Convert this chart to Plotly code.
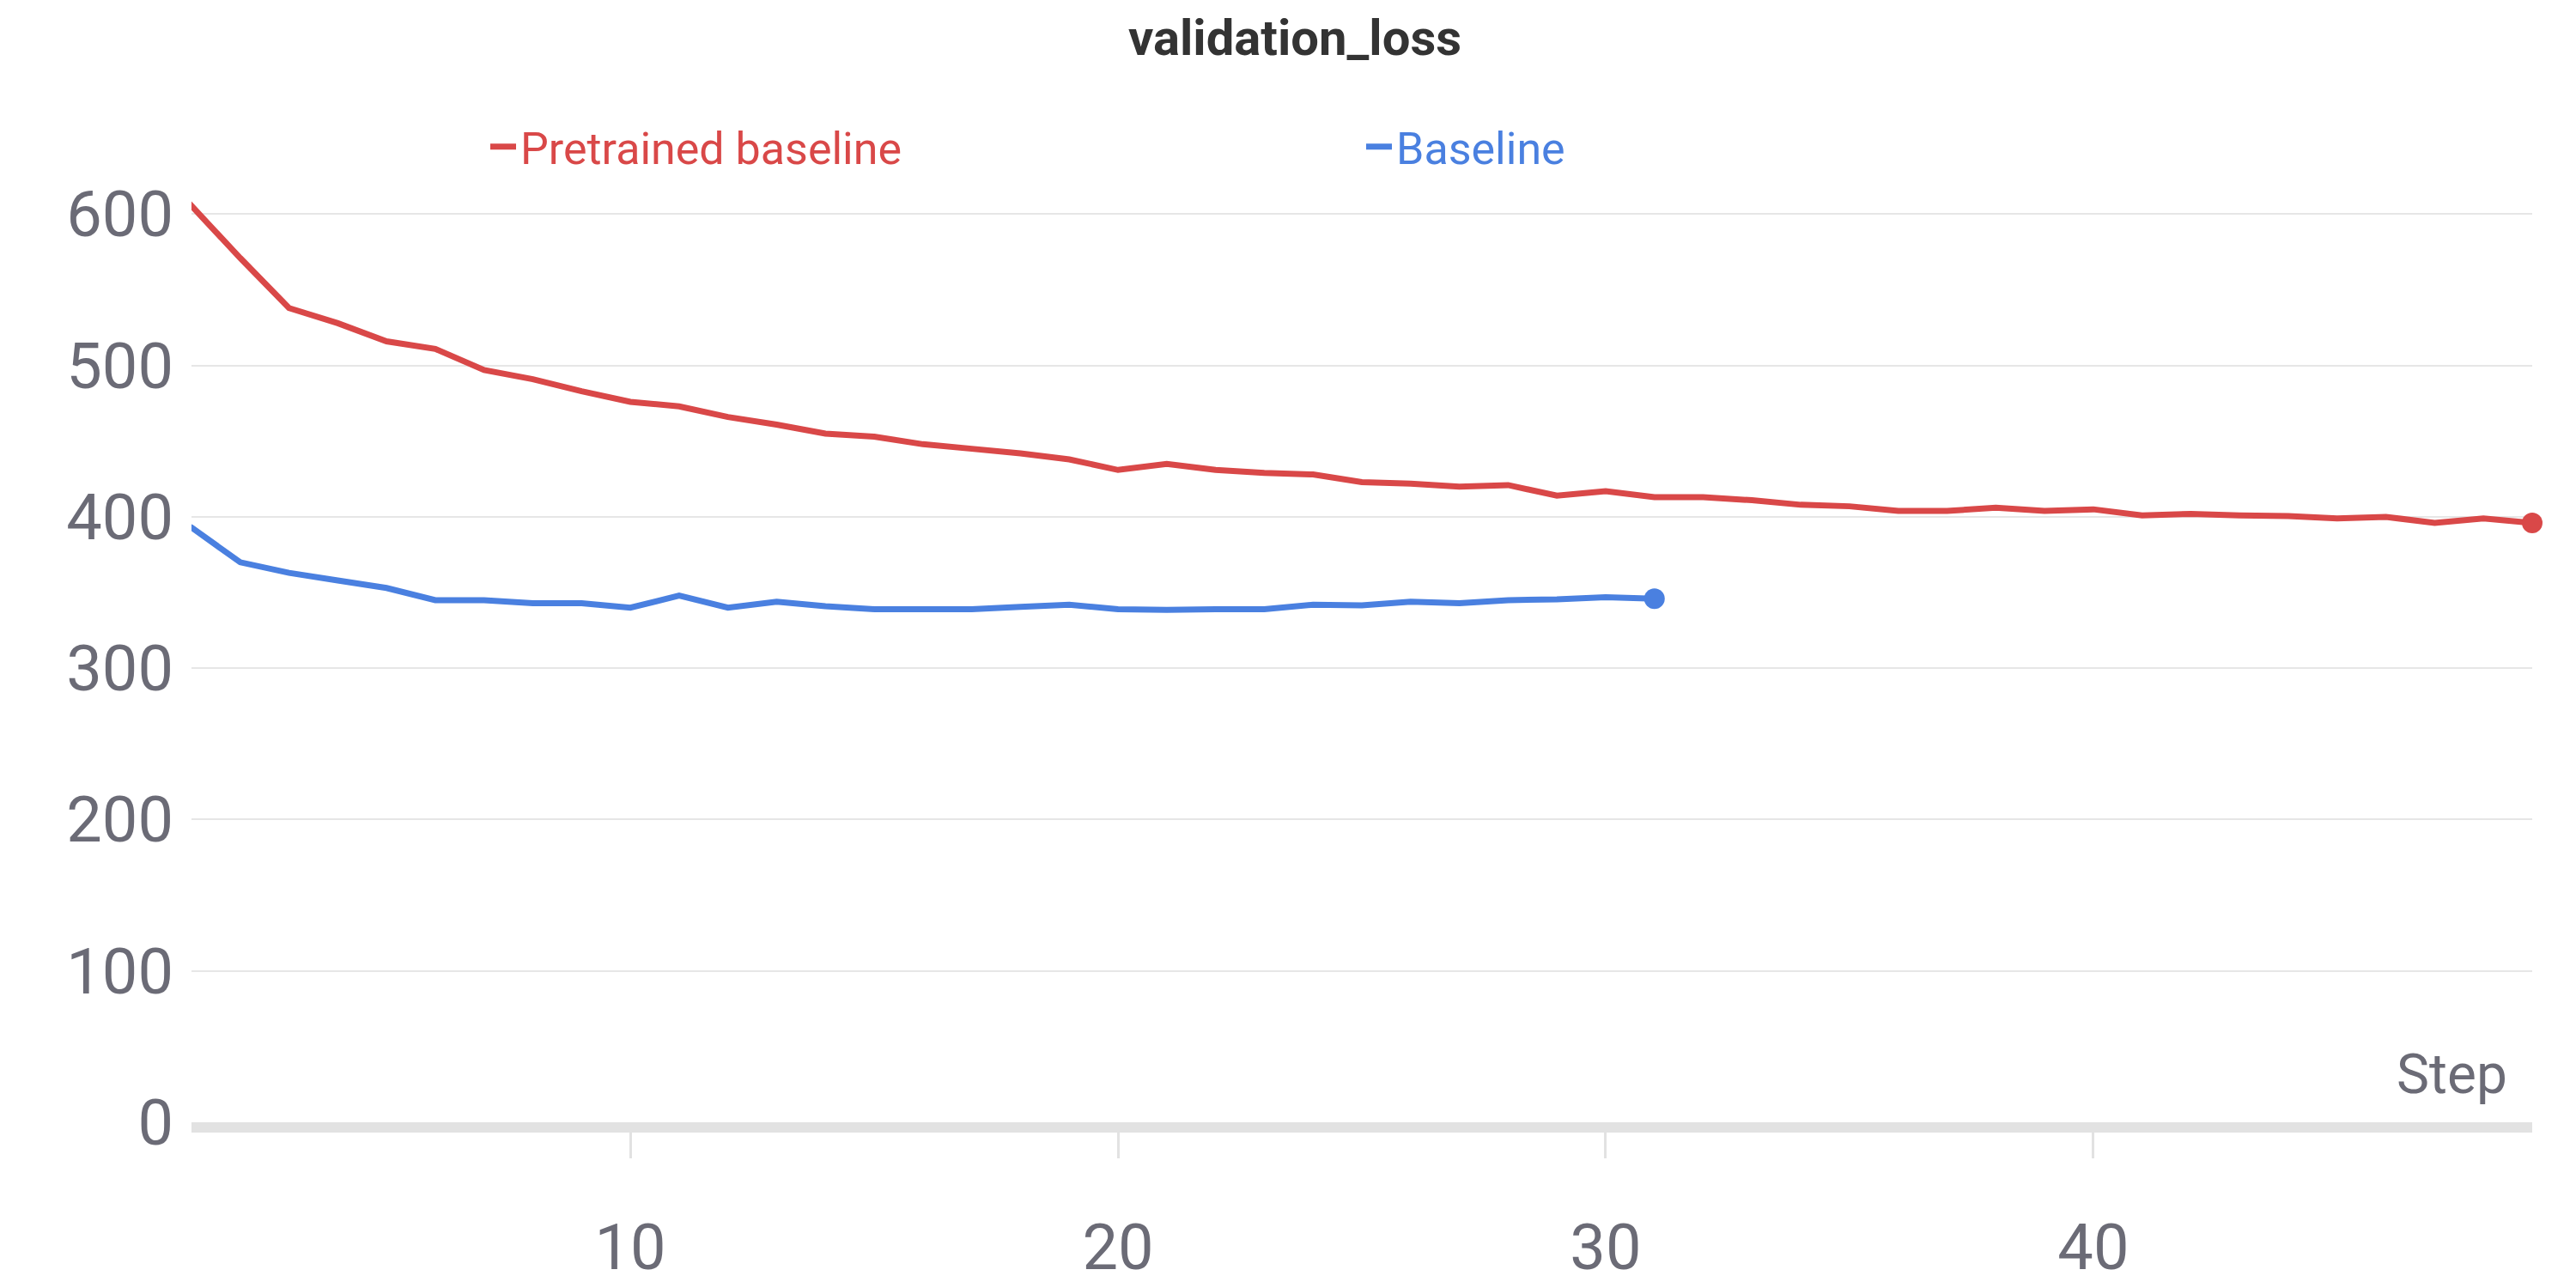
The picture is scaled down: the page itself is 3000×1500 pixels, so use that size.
import plotly.graph_objects as go

steps_red = list(range(0, 50))
pretrained = [640, 605, 571, 538, 528, 516, 511, 497, 491, 483, 476, 473, 466, 461, 455, 453,
              448, 445, 442, 438, 431, 435, 431, 429, 428, 423, 422, 420, 421, 414, 417,
              413, 413, 411, 408, 407, 404, 404, 406, 404, 405, 401, 402, 401, 400.5, 399,
              400, 396, 399, 396]
steps_blue = list(range(0, 32))
baseline = [407, 393, 370, 363, 358, 353, 345, 345, 343, 343, 340, 348, 340, 344, 341, 339,
            339, 339, 340.5, 342, 339, 338.5, 339, 339, 342, 341.5, 344, 343, 345, 345.5,
            347, 346]

RED = "#d94848"
BLUE = "#4a80e0"
GRAY = "#6b6b76"

fig = go.Figure()
fig.add_trace(go.Scatter(x=steps_red, y=pretrained, mode="lines",
                         name=f"<span style='color:{RED}'>Pretrained baseline</span>",
                         line=dict(color=RED, width=7)))
fig.add_trace(go.Scatter(x=steps_blue, y=baseline, mode="lines",
                         name=f"<span style='color:{BLUE}'>Baseline</span>",
                         line=dict(color=BLUE, width=7)))
# end-point markers
fig.add_trace(go.Scatter(x=[steps_red[-1]], y=[pretrained[-1]], mode="markers",
                         marker=dict(color=RED, size=24), showlegend=False, cliponaxis=False))
fig.add_trace(go.Scatter(x=[steps_blue[-1]], y=[baseline[-1]], mode="markers",
                         marker=dict(color=BLUE, size=24), showlegend=False, cliponaxis=False))

fig.update_layout(
    width=3000, height=1500,
    paper_bgcolor="white", plot_bgcolor="white",
    margin=dict(l=215, r=59, t=215, b=130),
    font=dict(family="Roboto, Arial", color=GRAY),
    title=dict(text="<b>validation_loss</b>", x=0.5, xanchor="center", y=0.99, yanchor="top",
               font=dict(size=58, color="#333333")),
    legend=dict(orientation="h", x=0.5, xanchor="center", y=1.048, yanchor="middle",
                font=dict(size=52), itemwidth=30, entrywidth=975, entrywidthmode="pixels"),
    showlegend=True,
)
fig.update_xaxes(range=[1, 49], tickvals=[10, 20, 30, 40], showgrid=False, zeroline=False,
                 showline=True, linecolor="#e2e2e2", linewidth=12,
                 ticks="outside", ticklen=30, tickwidth=3, tickcolor="#e2e2e2",
                 ticklabelstandoff=40, tickfont=dict(size=74, color=GRAY))
fig.update_yaxes(range=[0, 615], tickvals=[0, 100, 200, 300, 400, 500, 600], showgrid=True,
                 gridcolor="#e6e6e6", gridwidth=2, zeroline=False, showline=False,
                 ticklabelstandoff=20, tickfont=dict(size=74, color=GRAY))
fig.add_annotation(text="Step", xref="paper", yref="paper", x=0.99, y=0.015,
                   xanchor="right", yanchor="bottom", showarrow=False,
                   font=dict(size=64, color=GRAY))

fig.write_html("out.html")
